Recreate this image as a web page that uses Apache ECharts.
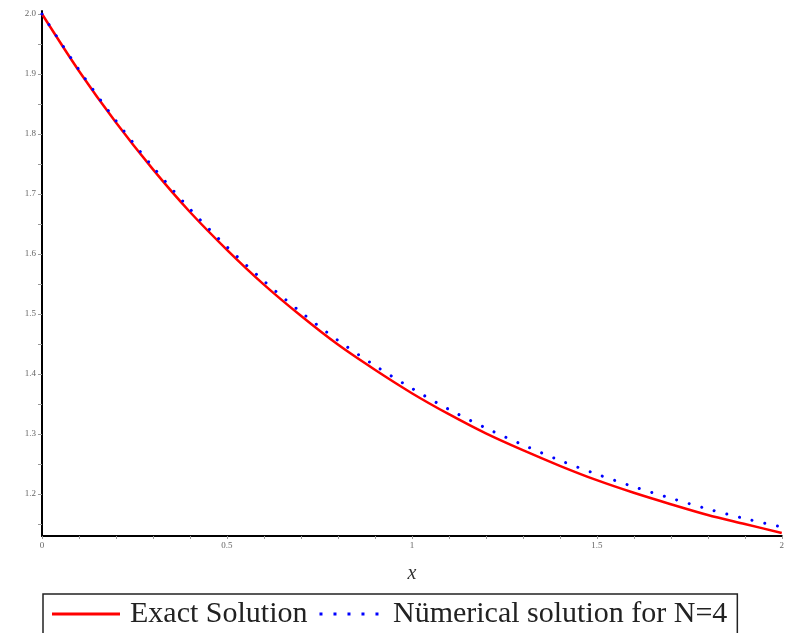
<!DOCTYPE html>
<html>
<head>
<meta charset="utf-8">
<script src="https://cdn.jsdelivr.net/npm/echarts@6/dist/echarts.min.js"></script>
<style>html,body{margin:0;padding:0;background:#fff}#c{width:787px;height:633px}</style>
</head>
<body>
<div id="c"></div>
<script>
const xValues = [0, 0.1, 0.2, 0.3, 0.4, 0.5, 0.6, 0.7, 0.8, 0.9, 1.0, 1.1, 1.2, 1.3, 1.4, 1.5, 1.6, 1.7, 1.8, 1.9, 2.0];
const exactValues = [2.000, 1.905, 1.819, 1.741, 1.670, 1.607, 1.549, 1.497, 1.449, 1.407, 1.368, 1.333, 1.301, 1.273, 1.247, 1.223, 1.202, 1.183, 1.165, 1.150, 1.135];
const numericalValues = [2.000, 1.907, 1.822, 1.745, 1.675, 1.612, 1.555, 1.503, 1.456, 1.414, 1.376, 1.341, 1.310, 1.282, 1.256, 1.233, 1.212, 1.193, 1.175, 1.159, 1.145];
const xTickLabels = [0, 0.5, 1, 1.5, 2];
const xTicks = [0,0.1,0.2,0.3,0.4,0.5,0.6,0.7,0.8,0.9,1,1.1,1.2,1.3,1.4,1.5,1.6,1.7,1.8,1.9,2];
const yTickLabels = [1.2, 1.3, 1.4, 1.5, 1.6, 1.7, 1.8, 1.9, 2.0];
const yTicks = [1.15,1.2,1.25,1.3,1.35,1.4,1.45,1.5,1.55,1.6,1.65,1.7,1.75,1.8,1.85,1.9,1.95,2.0];
const seriesNames = ['Exact Solution', 'Nümerical solution for N=4'];

const chart = echarts.init(document.getElementById('c'), null, {renderer: 'canvas'});
const zip = (xs, ys) => xs.map((x, i) => [x, ys[i]]);
const dotsIcon = 'path://M0,0h3v3h-3z M14,0h3v3h-3z M28,0h3v3h-3z M42,0h3v3h-3z M56,0h3v3h-3z';
chart.setOption({
  animation: false,
  backgroundColor: '#fff',
  grid: {left: 42, right: 1, top: 11, bottom: 97, containLabel: false},
  xAxis: {
    type: 'value', min: 0, max: 2,
    name: 'x', nameLocation: 'middle', nameGap: 28,
    nameTextStyle: {fontFamily: 'Liberation Serif', fontStyle: 'italic', fontSize: 20, color: '#333'},
    axisLine: {show: true, lineStyle: {color: '#000', width: 2}},
    axisTick: {show: true, customValues: xTicks, length: 3, lineStyle: {color: '#999', width: 1}},
    axisLabel: {customValues: xTickLabels, fontFamily: 'Liberation Serif', fontSize: 9, color: '#666', margin: 5,
      formatter: v => String(v)},
    splitLine: {show: false}
  },
  yAxis: {
    type: 'value', min: 1.13, max: 2.005,
    axisLine: {show: true, lineStyle: {color: '#000', width: 2}},
    axisTick: {show: true, customValues: yTicks, length: 4, lineStyle: {color: '#999', width: 1}},
    axisLabel: {customValues: yTickLabels, fontFamily: 'Liberation Serif', fontSize: 9, color: '#666', margin: 6,
      formatter: v => v.toFixed(1)},
    splitLine: {show: false}
  },
  legend: {
    left: 43, top: 594,
    data: [
      {name: seriesNames[0], icon: 'rect'},
      {name: seriesNames[1], icon: dotsIcon}
    ],
    itemWidth: 68, itemHeight: 3, itemGap: 12,
    padding: [5, 10, 12, 9],
    borderColor: '#222', borderWidth: 1.5,
    textStyle: {fontFamily: 'Liberation Serif', fontSize: 30, color: '#222', padding: [0, 0, 0, 5]}
  },
  series: [
    {
      name: seriesNames[0], type: 'line', data: zip(xValues, exactValues),
      showSymbol: false, symbol: 'none', smooth: 0.3, z: 2,
      lineStyle: {color: '#ff0000', width: 2.5},
      itemStyle: {color: '#ff0000'}
    },
    {
      name: seriesNames[1], type: 'line', data: zip(xValues, numericalValues),
      showSymbol: false, symbol: 'none', smooth: 0.3, z: 3,
      lineStyle: {color: '#0000ff', width: 3, type: [0.01, 13], cap: 'round'},
      itemStyle: {color: '#0000ff'}
    }
  ]
});
</script>
</body>
</html>
